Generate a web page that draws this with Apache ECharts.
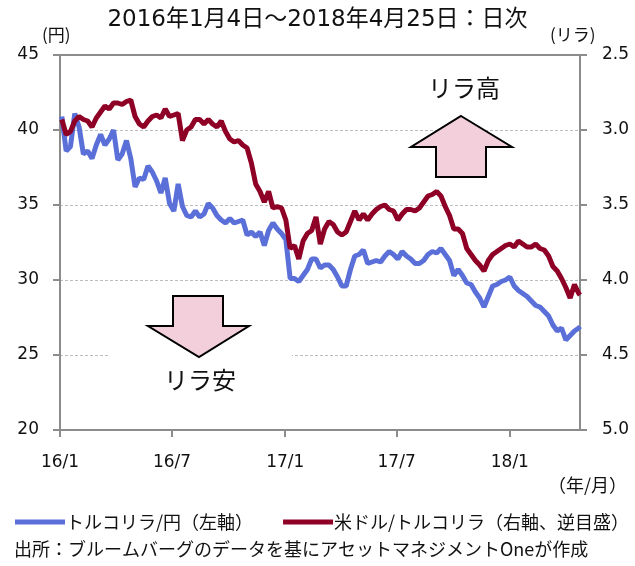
<!DOCTYPE html>
<html>
<head>
<meta charset="utf-8">
<script src="https://cdn.jsdelivr.net/npm/echarts@6/dist/echarts.min.js"></script>
<style>
  html, body { margin: 0; padding: 0; background: #fff; }
</style>
</head>
<body>
<div id="main" style="width: 635px; height: 566px"></div>
<script>
// 週次（月曜）の日付
const dates = [
  '2016-01-04', '2016-01-11', '2016-01-18', '2016-01-25', '2016-02-01', '2016-02-08', '2016-02-15', '2016-02-22', '2016-02-29',
  '2016-03-07', '2016-03-14', '2016-03-21', '2016-03-28', '2016-04-04', '2016-04-11', '2016-04-18', '2016-04-25',
  '2016-05-02', '2016-05-09', '2016-05-16', '2016-05-23', '2016-05-30', '2016-06-06', '2016-06-13', '2016-06-20', '2016-06-27',
  '2016-07-04', '2016-07-11', '2016-07-18', '2016-07-25', '2016-08-01', '2016-08-08', '2016-08-15', '2016-08-22', '2016-08-29',
  '2016-09-05', '2016-09-12', '2016-09-19', '2016-09-26', '2016-10-03', '2016-10-10', '2016-10-17', '2016-10-24', '2016-10-31',
  '2016-11-07', '2016-11-14', '2016-11-21', '2016-11-28', '2016-12-05', '2016-12-12', '2016-12-19', '2016-12-26',
  '2017-01-02', '2017-01-09', '2017-01-16', '2017-01-23', '2017-01-30', '2017-02-06', '2017-02-13', '2017-02-20', '2017-02-27',
  '2017-03-06', '2017-03-13', '2017-03-20', '2017-03-27', '2017-04-03', '2017-04-10', '2017-04-17', '2017-04-24',
  '2017-05-01', '2017-05-08', '2017-05-15', '2017-05-22', '2017-05-29', '2017-06-05', '2017-06-12', '2017-06-19', '2017-06-26',
  '2017-07-03', '2017-07-10', '2017-07-17', '2017-07-24', '2017-07-31', '2017-08-07', '2017-08-14', '2017-08-21', '2017-08-28',
  '2017-09-04', '2017-09-11', '2017-09-18', '2017-09-25', '2017-10-02', '2017-10-09', '2017-10-16', '2017-10-23', '2017-10-30',
  '2017-11-06', '2017-11-13', '2017-11-20', '2017-11-27', '2017-12-04', '2017-12-11', '2017-12-18', '2017-12-25',
  '2018-01-01', '2018-01-08', '2018-01-15', '2018-01-22', '2018-01-29', '2018-02-05', '2018-02-12', '2018-02-19', '2018-02-26',
  '2018-03-05', '2018-03-12', '2018-03-19', '2018-03-26', '2018-04-02', '2018-04-09', '2018-04-16', '2018-04-23', '2018-04-25'
]

// トルコリラ/円（左軸）
const tryJpy = [
  40.9, 38.6, 38.9, 41.1, 40.2, 38.4, 38.6, 38.1, 39.0,
  39.7, 39.0, 39.4, 40.0, 38.0, 38.4, 39.3, 38.1,
  36.2, 36.8, 36.7, 37.6, 37.2, 36.6, 35.8, 36.8, 35.1,
  34.6, 36.4, 34.9, 34.3, 34.2, 34.6, 34.2, 34.4, 35.1,
  34.8, 34.3, 34.0, 33.8, 34.1, 33.8, 33.9, 34.0, 33.0,
  33.2, 32.9, 33.2, 32.3, 33.3, 33.8, 33.4, 33.1,
  32.7, 30.1, 30.1, 29.9, 30.3, 30.7, 31.4, 31.4, 30.8,
  31.0, 31.0, 30.7, 30.2, 29.6, 29.6, 30.7, 31.6,
  31.7, 32.0, 31.1, 31.2, 31.3, 31.2, 31.6, 31.9, 31.7,
  31.4, 31.9, 31.6, 31.4, 31.1, 31.1, 31.3, 31.7, 31.9,
  31.8, 32.1, 31.7, 31.3, 30.3, 30.7, 30.3, 29.8, 29.7,
  29.2, 28.8, 28.2, 28.9, 29.6, 29.7, 29.9, 30.0,
  30.2, 29.6, 29.3, 29.1, 28.9, 28.6, 28.3, 28.2, 27.9,
  27.6, 27.0, 26.6, 26.8, 26.0, 26.3, 26.6, 26.8, 26.9
]

// 米ドル/トルコリラ（右軸、逆目盛）
const usdTry = [
  2.93, 3.03, 3.01, 2.94, 2.91, 2.93, 2.94, 2.98, 2.92,
  2.88, 2.84, 2.86, 2.82, 2.82, 2.83, 2.81, 2.80,
  2.91, 2.96, 2.98, 2.94, 2.91, 2.90, 2.92, 2.86, 2.91,
  2.90, 2.89, 3.07, 3.00, 2.98, 2.93, 2.93, 2.96, 2.93,
  2.96, 2.98, 2.94, 3.01, 3.06, 3.08, 3.07, 3.10, 3.12,
  3.22, 3.36, 3.41, 3.48, 3.41, 3.52, 3.51, 3.52,
  3.60, 3.79, 3.77, 3.86, 3.74, 3.69, 3.67, 3.58, 3.76,
  3.66, 3.61, 3.63, 3.68, 3.70, 3.68, 3.61, 3.54,
  3.60, 3.56, 3.60, 3.56, 3.53, 3.51, 3.50, 3.53, 3.54,
  3.60, 3.56, 3.53, 3.53, 3.54, 3.52, 3.48, 3.44, 3.43,
  3.41, 3.44, 3.51, 3.57, 3.66, 3.66, 3.69, 3.79, 3.83,
  3.87, 3.90, 3.94, 3.87, 3.83, 3.81, 3.79, 3.77,
  3.76, 3.78, 3.74, 3.76, 3.78, 3.78, 3.76, 3.79, 3.80,
  3.84, 3.91, 3.94, 3.99, 4.05, 4.12, 4.03, 4.09, 4.10
]

// 目盛（年/月）
const tickDates = ['2016-01-01', '2016-07-01', '2017-01-01', '2017-07-01', '2018-01-01']
const leftTicks = { min: 20, max: 45, interval: 5 }
const rightTicks = { min: 2.5, max: 5.0, interval: 0.5 }

const font = '"DejaVu Sans", "Noto Sans CJK JP", sans-serif'
const jpFont = '"Noto Sans CJK JP", sans-serif'
const gray = '#8c8c8c'

const toTime = s => Date.parse(s)
const blueData = dates.map((d, i) => [toTime(d), tryJpy[i]])
const redData = dates.map((d, i) => [toTime(d), usdTry[i]])
const tickTimes = tickDates.map(toTime)

var myChart = echarts.init(document.getElementById('main'))
var option = {
  animation: false,
  textStyle: { fontFamily: font },
  grid: { left: 60, right: 55, top: 55, bottom: 136, containLabel: false },
  legend: {
    left: 10,
    top: 508,
    itemWidth: 50,
    itemHeight: 12,
    itemGap: 30,
    icon: 'path://M0,0 L10,0 L10,1 L0,1 Z',
    textStyle: { fontFamily: jpFont, fontSize: 18, color: '#111', padding: [0, 0, 0, -4] },
    data: ['トルコリラ/円（左軸）', '米ドル/トルコリラ（右軸、逆目盛）']
  },
  xAxis: [
    {
      type: 'value',
      min: toTime('2016-01-01'),
      max: toTime('2018-04-25'),
      axisLine: { lineStyle: { color: gray, width: 2 } },
      axisTick: { show: true, customValues: tickTimes, length: 7, lineStyle: { color: gray, width: 2 } },
      axisLabel: {
        customValues: tickTimes,
        margin: 24,
        fontSize: 17,
        color: '#111',
        formatter: function(v) {
          const d = new Date(v)
          return String(d.getUTCFullYear()).slice(2) + '/' + (d.getUTCMonth() + 1)
        }
      },
      splitLine: { show: false }
    },
    {
      type: 'value',
      position: 'top',
      min: toTime('2016-01-01'),
      max: toTime('2018-04-25'),
      axisLine: { show: true, lineStyle: { color: gray, width: 2 } },
      axisTick: { show: false },
      axisLabel: { show: false },
      splitLine: { show: false }
    }
  ],
  yAxis: [
    {
      type: 'value',
      min: leftTicks.min,
      max: leftTicks.max,
      interval: leftTicks.interval,
      axisLine: { show: true, lineStyle: { color: gray, width: 2 } },
      axisTick: { show: true, length: 7, lineStyle: { color: gray, width: 2 } },
      axisLabel: { margin: 21, fontSize: 17, color: '#111' },
      splitLine: { show: true, lineStyle: { color: '#bdbdbd', type: [3, 2], width: 1 } }
    },
    {
      type: 'value',
      min: rightTicks.min,
      max: rightTicks.max,
      interval: rightTicks.interval,
      inverse: true,
      position: 'right',
      axisLine: { show: true, lineStyle: { color: gray, width: 2 } },
      axisTick: { show: true, length: 7, lineStyle: { color: gray, width: 2 } },
      axisLabel: { margin: 22, fontSize: 17, color: '#111', formatter: v => v.toFixed(1) },
      splitLine: { show: false }
    }
  ],
  series: [
    {
      name: 'トルコリラ/円（左軸）',
      type: 'line',
      xAxisIndex: 0,
      yAxisIndex: 0,
      symbol: 'none',
      lineStyle: { color: '#5a6fd8', width: 5 },
      itemStyle: { color: '#5a6fd8' },
      data: blueData
    },
    {
      name: '米ドル/トルコリラ（右軸、逆目盛）',
      type: 'line',
      xAxisIndex: 0,
      yAxisIndex: 1,
      symbol: 'none',
      lineStyle: { color: '#8e0026', width: 5 },
      itemStyle: { color: '#8e0026' },
      data: redData
    }
  ],
  graphic: [
    { type: 'text', left: 'center', top: 9, style: { text: '2016年1月4日～2018年4月25日：日次', font: '23px ' + font, fill: '#111' } },
    { type: 'text', left: 42, top: 26, style: { text: '(円)', font: '17px ' + jpFont, fill: '#111' } },
    { type: 'text', left: 550, top: 26, style: { text: '(リラ)', font: '17px ' + jpFont, fill: '#111' } },
    { type: 'text', right: 8, top: 476, style: { text: '（年/月）', font: '18px ' + jpFont, fill: '#111' } },
    { type: 'text', left: 14, top: 540, style: { text: '出所：ブルームバーグのデータを基にアセットマネジメントOneが作成', font: '18px ' + jpFont, fill: '#111' } },
    // 「リラ安」テキストボックス（破線を隠す）
    { type: 'rect', shape: { x: 110, y: 346, width: 182, height: 18 }, style: { fill: '#fff' }, z: 50 },
    {
      type: 'polygon', z: 60,
      shape: { points: [[173, 296], [223, 296], [223, 326], [249, 326], [199, 357], [148, 326], [173, 326]] },
      style: { fill: '#f2cfdb', stroke: '#000', lineWidth: 2 }
    },
    { type: 'text', left: 164, top: 368, z: 60, style: { text: 'リラ安', font: '24px ' + jpFont, fill: '#111' } },
    {
      type: 'polygon', z: 60,
      shape: { points: [[461, 116], [512, 147], [486, 147], [486, 177], [436, 177], [436, 147], [411, 147]] },
      style: { fill: '#f2cfdb', stroke: '#000', lineWidth: 2 }
    },
    { type: 'text', left: 428, top: 76, z: 60, style: { text: 'リラ高', font: '24px ' + jpFont, fill: '#111' } }
  ]
}
myChart.setOption(option)
</script>
</body>
</html>
